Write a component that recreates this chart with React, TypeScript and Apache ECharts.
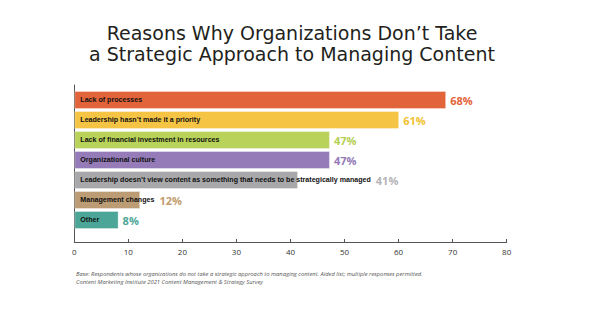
import React, { useEffect, useRef } from "react";
import * as echarts from "echarts";

const categories = [
  "Lack of processes",
  "Leadership hasn’t made it a priority",
  "Lack of financial investment in resources",
  "Organizational culture",
  "Leadership doesn’t view content as something that needs to be strategically managed",
  "Management changes",
  "Other",
];
const barValues = [68.8, 60.1, 47.3, 47.3, 41.4, 12.2, 8.2];
const percentLabels = [68, 61, 47, 47, 41, 12, 8];
const barColors = ["#E2643A", "#F5C444", "#B8D25A", "#957CB8", "#A8A8AB", "#BC9C74", "#4CA698"];
const labelColors = ["#E2643A", "#F2C130", "#B5CF53", "#937AB7", "#B4B4B6", "#C39C6E", "#4CA698"];
const xTicks = { min: 0, max: 80, interval: 10 };

const titleText = "Reasons Why Organizations Don’t Take\na Strategic Approach to Managing Content";
const footText =
  "Base: Respondents whose organizations do not take a strategic approach to managing content. Aided list; multiple responses permitted.\nContent Marketing Institute 2021 Content Management & Strategy Survey";

const NAME_SIZE = 7.1;
const NAME_FAMILY = "'Liberation Sans Narrow', 'Arial Narrow', sans-serif";

export default function App() {
  const ref = useRef<HTMLDivElement>(null);
  useEffect(() => {
    if (!ref.current) return;
    const chart = echarts.init(ref.current, undefined, { renderer: "svg" });
    const left = 74.3;
    const right = 93.3;
    const plotW = 600 - left - right;
    const ctx = document.createElement("canvas").getContext("2d")!;
    ctx.font = `bold ${NAME_SIZE}px ${NAME_FAMILY}`;
    const overflow = categories.map((c, i) => {
      const w = ctx.measureText(c).width + 6;
      const barPx = (barValues[i] / xTicks.max) * plotW;
      return w > barPx - 2;
    });

    const nameStyle = {
      fontFamily: NAME_FAMILY,
      fontWeight: "bold" as const,
      fontSize: NAME_SIZE,
      color: "#111",
    };

    const mainData = barValues.map((v, i) => ({
      value: v,
      itemStyle: { color: barColors[i], borderColor: "rgba(255,255,255,0.35)", borderWidth: 1 },
      label: {
        show: true,
        position: "insideLeft",
        distance: 6,
        formatter: overflow[i] ? `{n|${categories[i]}}{v|${percentLabels[i]}%}` : `{n|${categories[i]}}`,
        rich: {
          n: nameStyle,
          v: {
            fontFamily: "'Open Sans', sans-serif",
            fontWeight: "bold",
            fontSize: 11,
            color: labelColors[i],
            padding: [0, 0, 0, 5],
          },
        },
      },
    }));

    const valueData = barValues.map((v, i) => ({
      value: v,
      label: {
        show: !overflow[i],
        position: "right",
        distance: 4,
        formatter: `${percentLabels[i]}%`,
        fontFamily: "'Open Sans', sans-serif",
        fontWeight: "bold",
        fontSize: 11,
        color: labelColors[i],
      },
    }));

    chart.setOption({
      animation: false,
      title: [
        {
          text: titleText,
          left: 292,
          top: 22,
          padding: 0,
          textAlign: "center",
          textStyle: {
            fontFamily: "'DejaVu Sans', sans-serif",
            fontWeight: "normal",
            fontSize: 19,
            lineHeight: 21,
            color: "#231F20",
          },
        },
        {
          text: footText,
          left: 76,
          top: 270,
          padding: 0,
          textStyle: {
            fontFamily: "'Open Sans', sans-serif",
            fontStyle: "italic",
            fontWeight: "normal",
            fontSize: 5.8,
            lineHeight: 8,
            color: "#555",
          },
        },
      ],
      grid: [
        { left, right, top: 90, height: 140 },
        { left, right, top: 85, bottom: 80 },
      ],
      xAxis: [
        { gridIndex: 0, type: "value", min: xTicks.min, max: xTicks.max, show: false },
        {
          gridIndex: 1,
          type: "value",
          min: xTicks.min,
          max: xTicks.max,
          interval: xTicks.interval,
          axisLine: { show: true, lineStyle: { color: "#555", width: 1 } },
          axisTick: { show: true, inside: true, length: 3, lineStyle: { color: "#555" } },
          axisLabel: { color: "#333", fontSize: 8, margin: 5, fontFamily: "'Open Sans', sans-serif" },
          splitLine: { show: false },
        },
      ],
      yAxis: [
        { gridIndex: 0, type: "category", inverse: true, data: categories, show: false },
        {
          gridIndex: 1,
          type: "value",
          axisLine: { show: true, lineStyle: { color: "#555", width: 1 } },
          axisTick: { show: false },
          axisLabel: { show: false },
          splitLine: { show: false },
        },
      ],
      series: [
        {
          type: "bar",
          xAxisIndex: 0,
          yAxisIndex: 0,
          barWidth: 18,
          data: mainData,
          z: 2,
        },
        {
          type: "bar",
          xAxisIndex: 0,
          yAxisIndex: 0,
          barWidth: 18,
          barGap: "-100%",
          itemStyle: { color: "rgba(0,0,0,0)" },
          data: valueData,
          z: 3,
          silent: true,
        },
      ],
    });
    return () => chart.dispose();
  }, []);
  return (
    <div
      ref={ref}
      style={{ position: "absolute", left: 0, top: 0, width: 600, height: 322, background: "#fff" }}
    />
  );
}
